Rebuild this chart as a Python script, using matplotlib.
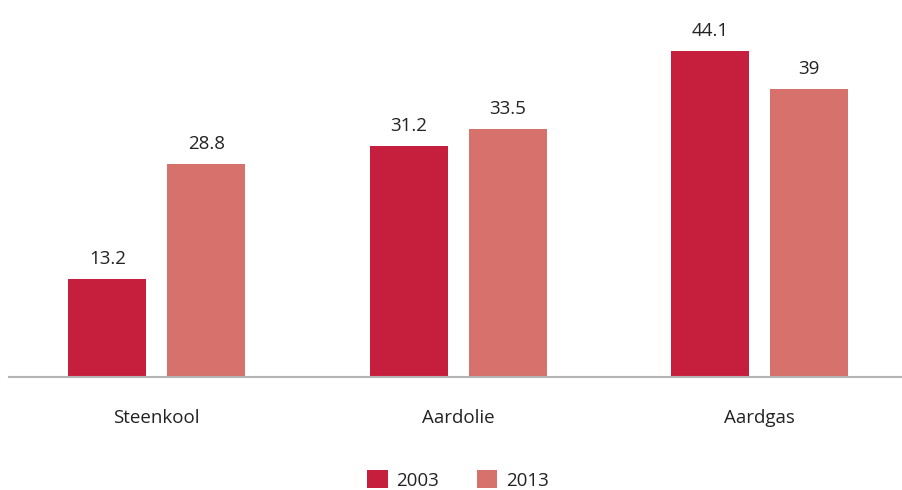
import numpy as np
import matplotlib.pyplot as plt

plt.rcParams['font.family'] = ['Open Sans', 'DejaVu Sans']

categories = ['Steenkool', 'Aardolie', 'Aardgas']
values_2003 = [13.2, 31.2, 44.1]
values_2013 = [28.8, 33.5, 39]
labels_2003 = ['13.2', '31.2', '44.1']
labels_2013 = ['28.8', '33.5', '39']

c2003 = '#c61f3d'
c2013 = '#d6716b'
text_color = '#222222'

fig = plt.figure(figsize=(9.02, 4.9), dpi=100)
ax = fig.add_axes([9 / 902, 113 / 490, 893 / 902, 369.5 / 490])

x = np.arange(len(categories))
w = 0.259
off = 0.164
b1 = ax.bar(x - off, values_2003, w, color=c2003, label='2003')
b2 = ax.bar(x + off, values_2013, w, color=c2013, label='2013')

for bars, labs in ((b1, labels_2003), (b2, labels_2013)):
    for bar, lab in zip(bars, labs):
        ax.annotate(lab, (bar.get_x() + bar.get_width() / 2, bar.get_height()),
                    xytext=(0, 11), textcoords='offset pixels',
                    ha='center', va='bottom', fontsize=13.5, color=text_color)

ax.set_xlim(-0.49, -0.49 + 893 / 301.5)
ax.set_ylim(0, 50)
ax.set_yticks([])
ax.set_xticks(x)
ax.set_xticklabels(categories, fontsize=13.5, color=text_color)
ax.tick_params(axis='x', length=0, pad=23)
for s in ['top', 'right', 'left']:
    ax.spines[s].set_visible(False)
ax.spines['bottom'].set_color('#b3b3b3')
ax.spines['bottom'].set_linewidth(1.5)

leg = fig.legend(loc='center', bbox_to_anchor=(458 / 902, 1 - 480 / 490), ncol=2,
                 frameon=False, fontsize=13.5, handlelength=1.1, handleheight=1.1,
                 columnspacing=2.0, handletextpad=0.45)
for t in leg.get_texts():
    t.set_color(text_color)

fig.savefig('out.png', dpi=100)
